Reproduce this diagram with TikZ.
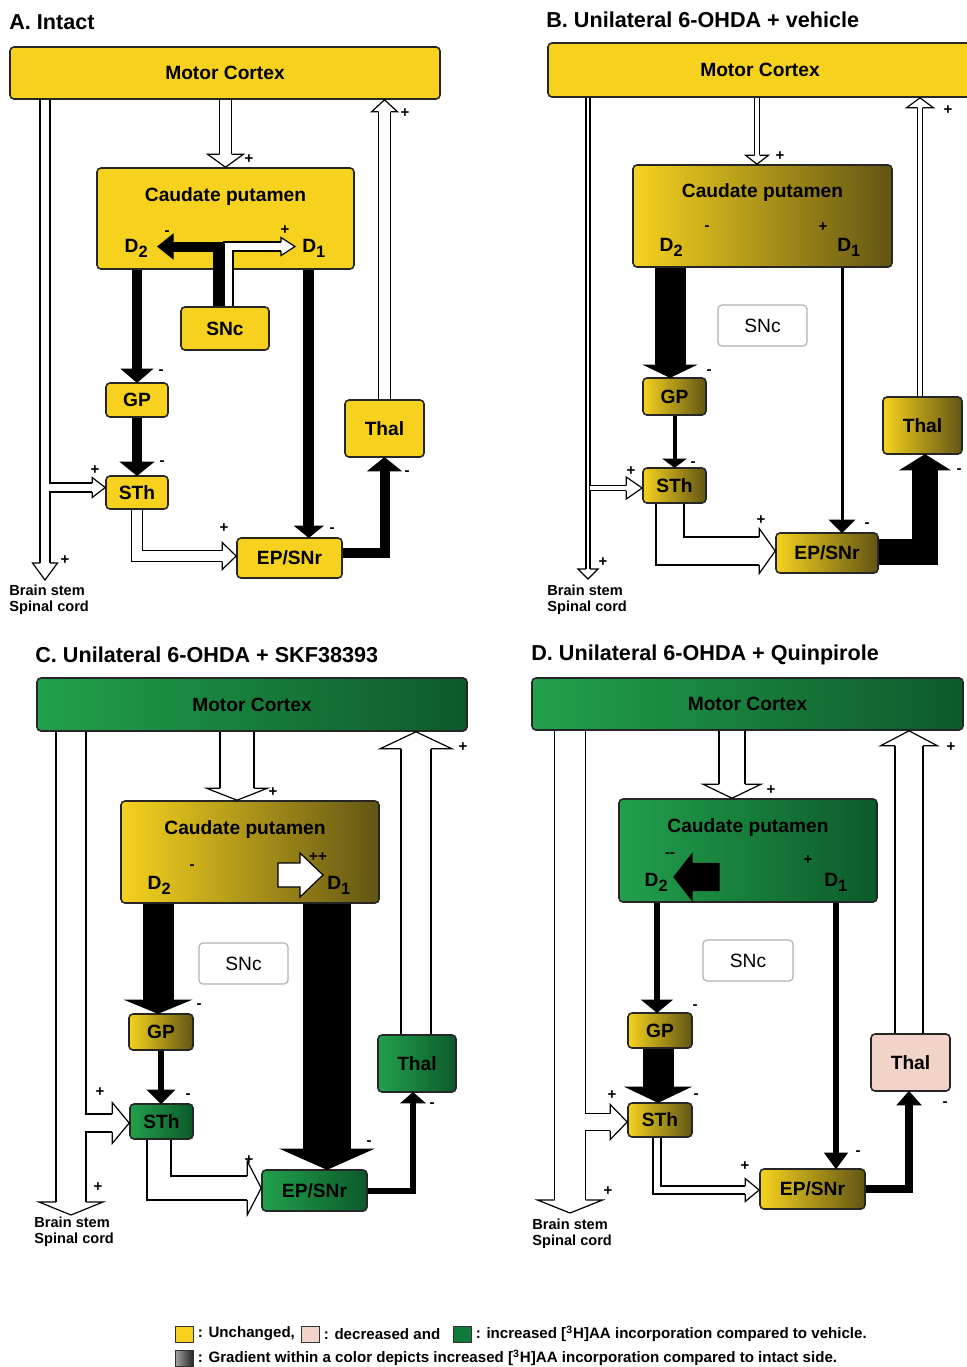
\documentclass[tikz,border=0pt]{standalone}
\usepackage{fontspec}
\setmainfont{Liberation Sans}
\usetikzlibrary{calc, positioning}
\definecolor{cyel}{HTML}{F6D21E}
\definecolor{colive}{HTML}{625514}
\definecolor{cgrn}{HTML}{22A04C}
\definecolor{cgrnd}{HTML}{0C5A2A}
\definecolor{cgrnl}{HTML}{117A3A}
\definecolor{cpink}{HTML}{F2D3C8}
% receptor subscript
\newcommand{\dsub}[1]{\raisebox{-0.5ex}{\fontsize{8.2}{9}\selectfont #1}}
% arrow head: [style]{tip}{angle}{shaft width}{head width}{head length}
\newcommand{\ahead}[6][]{%
  \draw[line width=0.6pt, line join=miter, #1, shift={(#2)}, rotate=#3]
    (-#6,#4/2) -- (-#6,#5/2) -- (0,0) -- (-#6,-#5/2) -- (-#6,-#4/2);}
% block arrow: [style]{tip}{angle}{length}{shaft width}{head width}{head length}
\newcommand{\fatarrow}[7][]{%
  \draw[line width=0.6pt, line join=miter, #1, shift={(#2)}, rotate=#3]
    (-#4,#5/2) -- (-#7,#5/2) -- (-#7,#6/2) -- (0,0) -- (-#7,-#6/2)
    -- (-#7,-#5/2) -- (-#4,-#5/2) -- cycle;}

\begin{document}
\begin{tikzpicture}[x=0.5pt, y=-0.5pt,
  box/.style={draw=black!85, line width=0.8pt, rounded corners=2pt, inner sep=0pt,
              font=\bfseries\fontsize{9.6}{11}\selectfont},
  sncbox/.style={draw=black!30, fill=white, line width=0.6pt, rounded corners=2pt,
                 inner sep=0pt, font=\fontsize{9.6}{11}\selectfont},
  unch/.style={fill=cyel},
  decr/.style={fill=cpink},
  incr/.style={fill=cgrnl},
  ygrad/.style={left color=cyel, right color=colive},
  ggrad/.style={left color=cgrn, right color=cgrnd},
  lbl/.style={inner sep=0pt, font=\bfseries\fontsize{9.6}{11}\selectfont},
  ttl/.style={anchor=west, inner sep=0pt, font=\bfseries\fontsize{10.8}{12}\selectfont},
  bst/.style={anchor=north west, align=left, inner sep=0pt,
              font=\bfseries\fontsize{7.3}{7.6}\selectfont},
  sgn/.style={inner sep=0pt, font=\bfseries\fontsize{7.5}{8}\selectfont},
  hol/.style={draw=black, line width=0.6pt, double=white, double distance=#1},
  lgsq/.style={draw=black!80, line width=0.5pt, minimum width=9pt, minimum height=8pt, inner sep=0pt},
  lgt/.style={inner sep=0pt, font=\bfseries\fontsize{7.55}{8}\selectfont}
]
  \useasboundingbox (0,0) rectangle (967,1367);

  % ---------------- A. Intact ----------------
  \node[ttl] at (9,22) {A. Intact};
  \node[box, unch, minimum width=215pt, minimum height=26pt] (mcA) at (225,73) {Motor Cortex};
  \node[box, unch, minimum width=128.5pt, minimum height=50.5pt] (cpA) at (225.5,218.5) {};
  \node[lbl] at ($(cpA.north)+(0,29)$) {Caudate putamen};
  \node[lbl] (d2A) at ($(cpA.south west)+(40,-21)$) {D\dsub{2}};
  \node[lbl] (d1A) at ($(cpA.south east)+(-41,-21)$) {D\dsub{1}};
  \node[box, unch, minimum width=44pt, minimum height=21.5pt] (sncA) at (225,328.5) {SNc};
  \node[box, unch, minimum width=31pt, minimum height=17pt] (gpA) at (137,400) {GP};
  \node[box, unch, minimum width=31pt, minimum height=16.5pt] (sthA) at (137,492.5) {STh};
  \node[box, unch, minimum width=52.5pt, minimum height=20pt] (epA) at (289.5,558) {EP/SNr};
  \node[box, unch, minimum width=39.5pt, minimum height=28.5pt] (thalA) at (384.5,428.5) {Thal};
  \node[bst] (bsA) at (9,585) {Brain stem\\Spinal cord};
  \coordinate (bstipA) at (45,580);
  \coordinate (d2tipA) at (158,246.5);
  \coordinate (d1tipA) at (295,246.5);

  % cortex -> caudate, thalamus -> cortex
  \draw[hol=5.4pt] (cpA |- mcA.south) -- ($(cpA.north)+(0,-13)$);
  \ahead[fill=white]{cpA.north}{270}{12}{36}{13}
  \node[sgn] at (249,159) {+};
  \draw[hol=5.4pt] (thalA.north) -- ($(thalA |- mcA.south)+(0,12)$);
  \ahead[fill=white]{thalA |- mcA.south}{90}{12}{26}{12}
  \node[sgn] at (405,113) {+};
  % cortex -> brain stem, branch to STh
  \draw[hol=4.4pt] (bstipA |- mcA.south) -- ($(bstipA)+(0,-17)$);
  \ahead[fill=white]{bstipA}{270}{10}{25}{17}
  \node[sgn] at (65,560) {+};
  \draw[hol=3.9pt] ($(bstipA |- sthA.west)+(4,-5)$) -- ($(sthA.west)+(-13,-5)$);
  \ahead[fill=white]{$(sthA.west)+(0,-5)$}{0}{9}{20}{13}
  \node[sgn] at (95,470) {+};
  % striatal outputs
  \draw[line width=5pt] (gpA |- cpA.south) -- ($(gpA.north)+(0,-13)$);
  \ahead[fill=black]{gpA.north}{270}{10}{30}{13}
  \node[sgn] at (161,372) {-};
  \draw[line width=5pt] (gpA.south) -- ($(sthA.north)+(0,-13)$);
  \ahead[fill=black]{sthA.north}{270}{10}{32}{13}
  \node[sgn] at (162,463) {-};
  \draw[line width=5.5pt] ($(d1A |- cpA.south)+(-5,0)$) -- ($(d1A |- epA.north)+(-5,-11)$);
  \ahead[fill=black]{$(d1A |- epA.north)+(-5,0)$}{270}{11}{27}{11}
  \node[sgn] at (332,530) {-};
  \draw[hol=4.9pt] (sthA.south) |- ($(epA.west)+(-14,-2)$);
  \ahead[fill=white]{$(epA.west)+(0,-2)$}{0}{11}{27}{14}
  \node[sgn] at (224,528) {+};
  \draw[line width=5pt] ($(epA.east)+(0,-5)$) -| ($(thalA.south)+(0,13)$);
  \ahead[fill=black]{thalA.south}{90}{10}{32}{13}
  \node[sgn] at (407,473) {-};
  % SNc -> D2 / D1
  \draw[line width=5pt] ($(sncA.north)+(-7,0)$) |- ($(d2tipA)+(15,0)$);
  \ahead[fill=black]{d2tipA}{180}{10}{24}{15}
  \draw[hol=3.9pt] ($(sncA.north)+(3.5,0)$) |- ($(d1tipA)+(-14,0)$);
  \ahead[fill=white]{d1tipA}{0}{9}{18}{14}
  \node[sgn] at (167,233) {-};
  \node[sgn] at (285,230) {+};

  % ---------------- B. vehicle ----------------
  \node[ttl] at (546,20) {B. Unilateral 6-OHDA + vehicle};
  \node[box, unch, minimum width=212pt, minimum height=27pt] (mcB) at (760,70) {Motor Cortex};
  \node[box, ygrad, minimum width=129.5pt, minimum height=51pt] (cpB) at (762.5,216) {};
  \node[lbl] at ($(cpB.north)+(0,28)$) {Caudate putamen};
  \node[lbl] (d2B) at ($(cpB.south west)+(39,-20)$) {D\dsub{2}};
  \node[lbl] (d1B) at ($(cpB.south east)+(-44,-20)$) {D\dsub{1}};
  \node[sgn] at (707,228) {-};
  \node[sgn] at (823,227) {+};
  \node[sncbox, minimum width=44.5pt, minimum height=20.5pt] (sncB) at (762.5,325.5) {SNc};
  \node[box, ygrad, minimum width=31.5pt, minimum height=18.5pt] (gpB) at (674.5,396.5) {GP};
  \node[box, ygrad, minimum width=31.5pt, minimum height=17.5pt] (sthB) at (674.5,485.5) {STh};
  \node[box, ygrad, minimum width=51pt, minimum height=20pt] (epB) at (827,553) {EP/SNr};
  \node[box, ygrad, minimum width=39.5pt, minimum height=28.5pt] (thalB) at (922.5,425.5) {Thal};
  \node[bst] (bsB) at (547,585) {Brain stem\\Spinal cord};
  \coordinate (bstipB) at (588,579);

  \draw[hol=1.9pt] ($(cpB |- mcB.south)+(-5.5,0)$) -- ($(cpB.north)+(-5.5,-9)$);
  \ahead[fill=white]{$(cpB.north)+(-5.5,0)$}{270}{5}{23}{9}
  \node[sgn] at (780,156) {+};
  \draw[hol=1.9pt] ($(thalB.north)+(-2.5,0)$) -- ($(thalB |- mcB.south)+(-2.5,10)$);
  \ahead[fill=white]{$(thalB |- mcB.south)+(-2.5,0)$}{90}{5}{27}{10}
  \node[sgn] at (948,110) {+};
  \draw[hol=1.4pt] (bstipB |- mcB.south) -- ($(bstipB)+(0,-10)$);
  \ahead[fill=white]{bstipB}{270}{4}{20}{10}
  \node[sgn] at (603,562) {+};
  \draw[hol=1.9pt] ($(bstipB |- sthB.west)+(1.5,2.5)$) -- ($(sthB.west)+(-16,2.5)$);
  \ahead[fill=white]{$(sthB.west)+(0,2.5)$}{0}{5}{22}{16}
  \node[sgn] at (631,471) {+};
  \draw[line width=15.5pt] ($(gpB |- cpB.south)+(-4.5,0)$) -- ($(gpB.north)+(-4.5,-12)$);
  \ahead[fill=black]{$(gpB.north)+(-4.5,0)$}{270}{31}{50}{12}
  \node[sgn] at (709,372) {-};
  \draw[line width=2pt] (gpB.south) -- ($(sthB.north)+(0,-8)$);
  \ahead[fill=black]{sthB.north}{270}{4}{21}{8}
  \node[sgn] at (693,464) {-};
  \draw[line width=1.5pt] ($(epB |- cpB.south)+(15,0)$) -- ($(epB.north)+(15,-12)$);
  \ahead[fill=black]{$(epB.north)+(15,0)$}{270}{3}{24}{12}
  \node[sgn] at (867,525) {-};
  \draw[hol=13.4pt] ($(sthB.south)+(-4.5,0)$) |- ($(epB.west)+(-16,-2)$);
  \ahead[fill=white]{$(epB.west)+(0,-2)$}{0}{28}{45}{16}
  \node[sgn] at (761,520) {+};
  \draw[line width=13pt] ($(epB.east)+(0,-1)$) -| ($(thalB.south)+(2.5,15)$);
  \ahead[fill=black]{$(thalB.south)+(2.5,0)$}{90}{26}{48}{15}
  \node[sgn] at (959,471) {-};

  % ---------------- C. SKF38393 ----------------
  \node[ttl] at (35,655) {C. Unilateral 6-OHDA + SKF38393};
  \node[box, ggrad, minimum width=215pt, minimum height=26.5pt] (mcC) at (252,704.5) {Motor Cortex};
  \node[box, ygrad, minimum width=129pt, minimum height=51pt] (cpC) at (250,852) {};
  \node[lbl] at ($(cpC.north)+(-5,29)$) {Caudate putamen};
  \node[lbl] (d2C) at ($(cpC.south west)+(39,-18)$) {D\dsub{2}};
  \node[lbl] (d1C) at ($(cpC.south east)+(-41,-18)$) {D\dsub{1}};
  \coordinate (d1tipC) at (323,875);
  \fatarrow[fill=white]{d1tipC}{0}{45}{24}{44}{23}
  \node[sgn] at (192,867) {-};
  \node[sgn] at (318,857) {++};
  \node[sncbox, minimum width=44.5pt, minimum height=20.5pt] (sncC) at (243.5,963.5) {SNc};
  \node[box, ygrad, minimum width=32pt, minimum height=18pt] (gpC) at (161,1032) {GP};
  \node[box, ggrad, minimum width=31.5pt, minimum height=17.5pt] (sthC) at (161.5,1121.5) {STh};
  \node[box, ggrad, minimum width=52.5pt, minimum height=20.5pt] (epC) at (314.5,1190.5) {EP/SNr};
  \node[box, ggrad, minimum width=39pt, minimum height=28.5pt] (thalC) at (417,1063.5) {Thal};
  \node[bst] (bsC) at (34,1217) {Brain stem\\Spinal cord};
  \coordinate (bstipC) at (71,1215);

  \draw[hol=16.4pt] ($(cpC |- mcC.south)+(-13,0)$) -- ($(cpC.north)+(-13,-12)$);
  \ahead[fill=white]{$(cpC.north)+(-13,0)$}{270}{34}{61}{12}
  \node[sgn] at (273,792) {+};
  \draw[hol=14.4pt] ($(thalC.north)+(-1,0)$) -- ($(thalC |- mcC.south)+(-1,17)$);
  \ahead[fill=white]{$(thalC |- mcC.south)+(-1,0)$}{90}{30}{72}{17}
  \node[sgn] at (463,747) {+};
  \draw[hol=14.4pt] (bstipC |- mcC.south) -- ($(bstipC)+(0,-13)$);
  \ahead[fill=white]{bstipC}{270}{30}{64}{13}
  \node[sgn] at (98,1187) {+};
  \draw[hol=8.4pt] ($(bstipC |- sthC.west)+(14,1.5)$) -- ($(sthC.west)+(-17,1.5)$);
  \ahead[fill=white]{$(sthC.west)+(0,1.5)$}{0}{18}{41}{17}
  \node[sgn] at (100,1092) {+};
  \draw[line width=15.5pt] ($(gpC |- cpC.south)+(-3,0)$) -- ($(gpC.north)+(-3,-13)$);
  \ahead[fill=black]{$(gpC.north)+(-3,0)$}{270}{31}{63}{13}
  \node[sgn] at (199,1006) {-};
  \draw[line width=3pt] (gpC.south) -- ($(gpC |- sthC.north)+(0,-13)$);
  \ahead[fill=black]{gpC |- sthC.north}{270}{6}{26}{13}
  \node[sgn] at (188,1096) {-};
  \draw[line width=24pt] ($(epC |- cpC.south)+(12.5,0)$) -- ($(epC.north)+(12.5,-20)$);
  \ahead[fill=black]{$(epC.north)+(12.5,0)$}{270}{48}{90}{20}
  \node[sgn] at (369,1143) {-};
  \draw[hol=11.4pt] ($(sthC.south)+(-2.5,0)$) |- ($(epC.west)+(-14,-2.5)$);
  \ahead[fill=white]{$(epC.west)+(0,-2.5)$}{0}{24}{54}{14}
  \node[sgn] at (249,1160) {+};
  \draw[line width=3pt] (epC.east) -| ($(thalC.south)+(-4,10)$);
  \ahead[fill=black]{$(thalC.south)+(-4,0)$}{90}{6}{23}{10}
  \node[sgn] at (432,1105) {-};

  % ---------------- D. Quinpirole ----------------
  \node[ttl] at (531,655) {D. Unilateral 6-OHDA + Quinpirole};
  \node[box, ggrad, minimum width=215.5pt, minimum height=26pt] (mcD) at (747.5,704) {Motor Cortex};
  \node[box, ggrad, minimum width=129pt, minimum height=51.5pt] (cpD) at (748,850.5) {};
  \node[lbl] at ($(cpD.north)+(0,29)$) {Caudate putamen};
  \node[lbl] (d2D) at ($(cpD.south west)+(38,-20)$) {D\dsub{2}};
  \node[lbl] (d1D) at ($(cpD.south east)+(-42,-20)$) {D\dsub{1}};
  \coordinate (d2tipD) at (674,877);
  \fatarrow[fill=black]{d2tipD}{180}{45}{27}{46}{18}
  \node[sgn] at (670,855) {-{}-};
  \node[sgn] at (808,860) {+};
  \node[sncbox, minimum width=45pt, minimum height=20.5pt] (sncD) at (748,960.5) {SNc};
  \node[box, ygrad, minimum width=32pt, minimum height=17.5pt] (gpD) at (660,1030.5) {GP};
  \node[box, ygrad, minimum width=32pt, minimum height=17pt] (sthD) at (660,1120) {STh};
  \node[box, ygrad, minimum width=52.5pt, minimum height=20pt] (epD) at (812.5,1189) {EP/SNr};
  \node[box, decr, minimum width=39.5pt, minimum height=28.5pt] (thalD) at (910.5,1062.5) {Thal};
  \node[bst] (bsD) at (532,1219) {Brain stem\\Spinal cord};
  \coordinate (bstipD) at (570,1213);

  \draw[hol=12.4pt] ($(cpD |- mcD.south)+(-16,0)$) -- ($(cpD.north)+(-16,-14)$);
  \ahead[fill=white]{$(cpD.north)+(-16,0)$}{270}{26}{58}{14}
  \node[sgn] at (771,790) {+};
  \draw[hol=13.4pt] ($(thalD.north)+(-1.5,0)$) -- ($(thalD |- mcD.south)+(-1.5,15)$);
  \ahead[fill=white]{$(thalD |- mcD.south)+(-1.5,0)$}{90}{28}{57}{15}
  \node[sgn] at (951,747) {+};
  \draw[hol=14.9pt] (bstipD |- mcD.south) -- ($(bstipD)+(0,-13)$);
  \ahead[fill=white]{bstipD}{270}{31}{65}{13}
  \node[sgn] at (608,1191) {+};
  \draw[hol=7.9pt] ($(bstipD |- sthD.west)+(14.5,2)$) -- ($(sthD.west)+(-17,2)$);
  \ahead[fill=white]{$(sthD.west)+(0,2)$}{0}{17}{35}{17}
  \node[sgn] at (612,1095) {+};
  \draw[line width=3pt] ($(gpD |- cpD.south)+(-3,0)$) -- ($(gpD.north)+(-3,-12)$);
  \ahead[fill=black]{$(gpD.north)+(-3,0)$}{270}{6}{29}{12}
  \node[sgn] at (695,1007) {-};
  \draw[line width=15.5pt] ($(gpD.south)+(-2,0)$) -- ($(sthD.north)+(-2,-15)$);
  \ahead[fill=black]{$(sthD.north)+(-2,0)$}{270}{31}{63}{15}
  \node[sgn] at (696,1096) {-};
  \draw[line width=3pt] ($(epD |- cpD.south)+(23.5,0)$) -- ($(epD.north)+(23.5,-15)$);
  \ahead[fill=black]{$(epD.north)+(23.5,0)$}{270}{6}{22}{15}
  \node[sgn] at (858,1153) {-};
  \draw[hol=3.4pt] ($(sthD.south)+(-3,0)$) |- ($(epD.west)+(-14,1)$);
  \ahead[fill=white]{$(epD.west)+(0,1)$}{0}{8}{23}{14}
  \node[sgn] at (745,1166) {+};
  \draw[line width=4pt] (epD.east) -| ($(thalD.south)+(-1.5,13)$);
  \ahead[fill=black]{$(thalD.south)+(-1.5,0)$}{90}{8}{23}{13}
  \node[sgn] at (945,1104) {-};

  % ---------------- legend ----------------
  \node[lgsq, unch] (lgY) at (184,1334) {};
  \node[lgt, right=2pt of lgY] {: Unchanged,};
  \node[lgsq, decr] (lgP) at (310,1334) {};
  \node[lgt, right=2pt of lgP] {: decreased and};
  \node[lgsq, incr] (lgG) at (462,1334) {};
  \node[lgt, right=2pt of lgG] {: increased [\textsuperscript{3}H]AA incorporation compared to vehicle.};
  \node[lgsq, left color=black!35, right color=black!85] (lgS) at (184,1358) {};
  \node[lgt, right=2pt of lgS] {: Gradient within a color depicts increased [\textsuperscript{3}H]AA incorporation compared to intact side.};
\end{tikzpicture}
\end{document}
